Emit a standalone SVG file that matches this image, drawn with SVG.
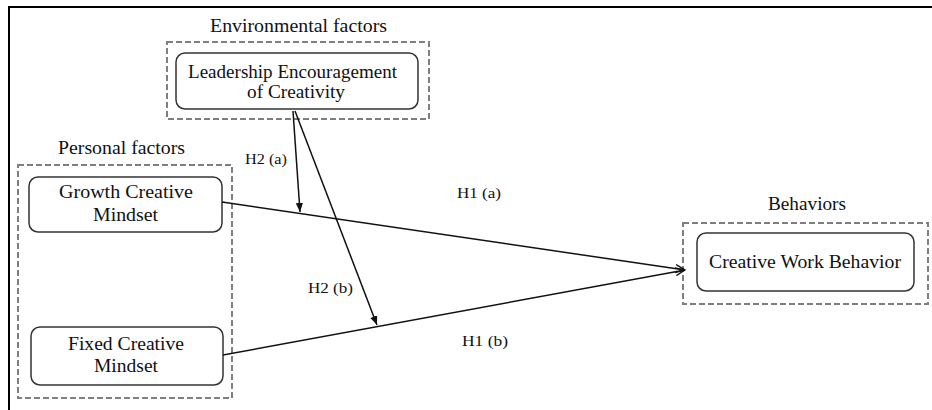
<svg xmlns="http://www.w3.org/2000/svg" width="932" height="410" viewBox="0 0 932 410">
<style>
text{font-family:'Liberation Serif','DejaVu Serif','Noto Serif',serif;fill:#111;}
.lbl{font-size:18px;}
.nt{font-size:18px;text-anchor:middle;}
.hl{font-size:15px;}
.grp{fill:none;stroke:#7f7f7f;stroke-width:2;stroke-dasharray:6,3;}
.node{fill:#fff;stroke:#333;stroke-width:1.5;}
.edge{fill:none;stroke:#111;stroke-width:1.5;}
</style>
<defs>
<marker id="open" viewBox="0 0 10 10" refX="9.5" refY="5" markerWidth="10" markerHeight="10" markerUnits="userSpaceOnUse" orient="auto">
<path d="M0,1 L9.5,5 L0,9" fill="none" stroke="#111" stroke-width="1.3"/>
</marker>
<marker id="fill" viewBox="0 0 10 10" refX="10" refY="5" markerWidth="9" markerHeight="9" markerUnits="userSpaceOnUse" orient="auto">
<path d="M0,1 L10,5 L0,9 Z" fill="#111"/>
</marker>
</defs>
<rect width="932" height="410" fill="#fff"/>
<path d="M9,410 L9,7 L932,7" fill="none" stroke="#000" stroke-width="2"/>

<g id="env-group">
<text class="lbl" x="298.5" y="32" text-anchor="middle" textLength="177" lengthAdjust="spacingAndGlyphs">Environmental factors</text>
<rect class="grp" x="167" y="42" width="262" height="77"/>
</g>
<g id="personal-group">
<text class="lbl" x="121.5" y="154" text-anchor="middle" textLength="127" lengthAdjust="spacingAndGlyphs">Personal factors</text>
<rect class="grp" x="18" y="165" width="214" height="233"/>
</g>
<g id="behaviors-group">
<text class="lbl" x="807" y="210" text-anchor="middle" textLength="78" lengthAdjust="spacingAndGlyphs">Behaviors</text>
<rect class="grp" x="683" y="223" width="245" height="81"/>
</g>

<g id="leadership">
<rect class="node" x="176" y="53" width="242" height="56" rx="9"/>
<text class="nt" x="292.5" y="78" textLength="209" lengthAdjust="spacingAndGlyphs">Leadership Encouragement</text>
<text class="nt" x="296" y="98" textLength="98" lengthAdjust="spacingAndGlyphs">of Creativity</text>
</g>
<g id="growth">
<rect class="node" x="29" y="177" width="193" height="55" rx="9"/>
<text class="nt" x="126" y="198" textLength="134" lengthAdjust="spacingAndGlyphs">Growth Creative</text>
<text class="nt" x="125.5" y="221" textLength="65" lengthAdjust="spacingAndGlyphs">Mindset</text>
</g>
<g id="fixed">
<rect class="node" x="31" y="327" width="192" height="58" rx="9"/>
<text class="nt" x="126" y="350" textLength="116" lengthAdjust="spacingAndGlyphs">Fixed Creative</text>
<text class="nt" x="126" y="372" textLength="64" lengthAdjust="spacingAndGlyphs">Mindset</text>
</g>
<g id="cwb">
<rect class="node" x="697" y="233" width="217" height="58" rx="9"/>
<text class="nt" x="805" y="268" textLength="192" lengthAdjust="spacingAndGlyphs">Creative Work Behavior</text>
</g>

<g id="connectors">
<line class="edge" x1="222" y1="202" x2="685" y2="270" marker-end="url(#open)"/>
<line class="edge" x1="223" y1="355" x2="685" y2="270" marker-end="url(#open)"/>
<line class="edge" x1="293" y1="111" x2="300" y2="212" marker-end="url(#fill)"/>
<line class="edge" x1="295" y1="111" x2="377" y2="325" marker-end="url(#fill)"/>
<text class="hl" x="245" y="164" textLength="42" lengthAdjust="spacingAndGlyphs">H2 (a)</text>
<text class="hl" x="308" y="293" textLength="45" lengthAdjust="spacingAndGlyphs">H2 (b)</text>
<text class="hl" x="457" y="198" textLength="44" lengthAdjust="spacingAndGlyphs">H1 (a)</text>
<text class="hl" x="462" y="346" textLength="46" lengthAdjust="spacingAndGlyphs">H1 (b)</text>
</g>
</svg>
